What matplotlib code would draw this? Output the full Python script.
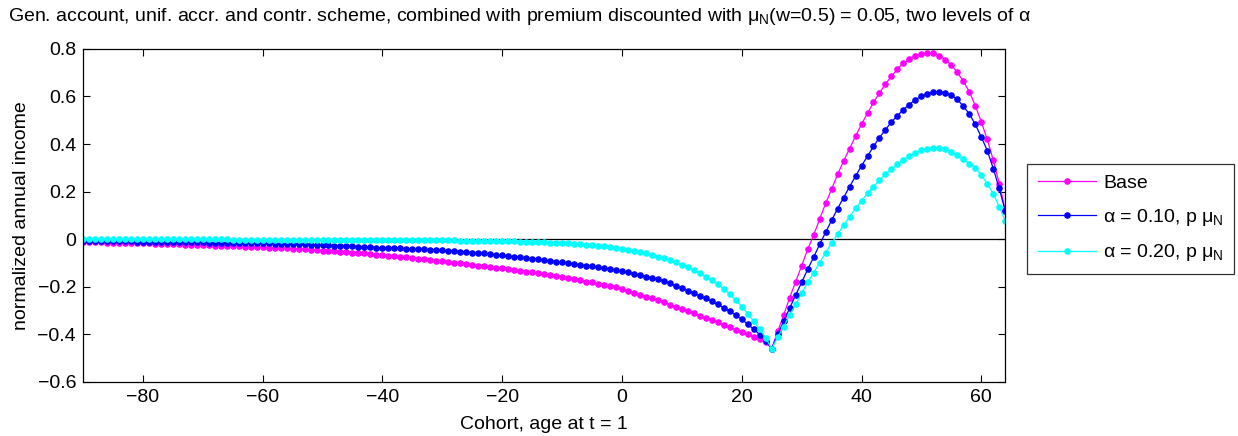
import matplotlib
matplotlib.use('Agg')
import matplotlib.pyplot as plt
import numpy as np

plt.rcParams['font.family'] = ['Liberation Sans', 'DejaVu Sans']
plt.rcParams['mathtext.fontset'] = 'custom'
plt.rcParams['mathtext.rm'] = 'Liberation Sans'
plt.rcParams['mathtext.it'] = 'Liberation Sans:italic'
plt.rcParams['font.size'] = 14

# cohort ages, -90 .. 64
ages = np.arange(-90, 65)

base = [
    -0.011, -0.012, -0.012, -0.013, -0.014, -0.014, -0.015, -0.016, -0.016, -0.017,
    -0.018, -0.018, -0.019, -0.020, -0.020, -0.021, -0.022, -0.023, -0.023, -0.024,
    -0.025, -0.026, -0.027, -0.027, -0.028, -0.029, -0.030, -0.031, -0.032, -0.033,
    -0.034, -0.035, -0.036, -0.037, -0.039, -0.040, -0.041, -0.043, -0.044, -0.046,
    -0.048, -0.049, -0.051, -0.053, -0.054, -0.056, -0.058, -0.060, -0.062, -0.065,
    -0.067, -0.069, -0.072, -0.074, -0.077, -0.079, -0.082, -0.084, -0.087, -0.090,
    -0.093, -0.096, -0.099, -0.102, -0.105, -0.108, -0.111, -0.114, -0.117, -0.120,
    -0.123, -0.126, -0.130, -0.133, -0.137, -0.140, -0.144, -0.148, -0.152, -0.156,
    -0.160, -0.164, -0.169, -0.173, -0.178, -0.182, -0.187, -0.192, -0.197, -0.203,
    -0.210, -0.217, -0.225, -0.233, -0.241, -0.249, -0.257,
    -0.266, -0.275, -0.284, -0.294, -0.303, -0.312, -0.321, -0.331, -0.340, -0.350,
    -0.360, -0.370, -0.380, -0.390, -0.400, -0.410, -0.420, -0.431,
    -0.460,
    -0.388, -0.319, -0.246, -0.179, -0.112, -0.043, 0.017, 0.084, 0.150, 0.210,
    0.272, 0.328, 0.381, 0.433, 0.483, 0.530, 0.575, 0.615, 0.652, 0.685,
    0.715, 0.740, 0.757, 0.771, 0.779, 0.784, 0.781, 0.771, 0.754, 0.731,
    0.701, 0.664, 0.620, 0.561, 0.493, 0.419, 0.332, 0.234, 0.122,
]

alpha10 = [
    -0.007, -0.007, -0.007, -0.008, -0.008, -0.008, -0.009, -0.009, -0.009, -0.010,
    -0.010, -0.010, -0.011, -0.011, -0.011, -0.012, -0.012, -0.012, -0.013, -0.013,
    -0.013, -0.014, -0.014, -0.014, -0.015, -0.015, -0.016, -0.016, -0.017, -0.017,
    -0.017, -0.018, -0.019, -0.019, -0.020, -0.021, -0.022, -0.022, -0.023, -0.024,
    -0.025, -0.026, -0.027, -0.028, -0.029, -0.030, -0.031, -0.032, -0.033, -0.035,
    -0.036, -0.037, -0.038, -0.039, -0.040, -0.041, -0.042, -0.043, -0.045, -0.046,
    -0.047, -0.049, -0.050, -0.052, -0.054, -0.056, -0.058, -0.060, -0.063, -0.065,
    -0.068, -0.071, -0.073, -0.076, -0.079, -0.082, -0.085, -0.088, -0.091, -0.094,
    -0.097, -0.100, -0.104, -0.107, -0.111, -0.114, -0.118, -0.122, -0.126, -0.130,
    -0.135, -0.140, -0.145, -0.151, -0.157, -0.163, -0.169,
    -0.176, -0.186, -0.196, -0.206, -0.216, -0.227, -0.238, -0.249, -0.261, -0.274,
    -0.288, -0.303, -0.319, -0.337, -0.357, -0.378, -0.401, -0.426,
    -0.460,
    -0.400, -0.345, -0.289, -0.235, -0.182, -0.127, -0.076, -0.022, 0.029, 0.079,
    0.128, 0.175, 0.220, 0.265, 0.308, 0.349, 0.390, 0.427, 0.460, 0.493,
    0.519, 0.545, 0.566, 0.587, 0.600, 0.611, 0.618, 0.619, 0.615, 0.605,
    0.588, 0.558, 0.527, 0.482, 0.430, 0.372, 0.297, 0.213, 0.118,
]

alpha20 = [
    -0.001, -0.001, -0.001, -0.001, -0.001, -0.001, -0.001, -0.001, -0.001, -0.001,
    -0.001, -0.001, -0.001, -0.001, -0.001, -0.001, -0.001, -0.001, -0.001, -0.001,
    -0.001, -0.001, -0.001, -0.001, -0.001, -0.002, -0.002, -0.002, -0.002, -0.002,
    -0.002, -0.002, -0.002, -0.002, -0.002, -0.002, -0.002, -0.002, -0.002, -0.002,
    -0.002, -0.002, -0.002, -0.002, -0.002, -0.003, -0.003, -0.003, -0.003, -0.003,
    -0.003, -0.003, -0.003, -0.003, -0.004, -0.004, -0.004, -0.004, -0.004, -0.005,
    -0.005, -0.005, -0.005, -0.006, -0.006, -0.006, -0.007, -0.007, -0.007, -0.008,
    -0.008, -0.009, -0.009, -0.010, -0.010, -0.011, -0.012, -0.013, -0.014, -0.015,
    -0.016, -0.018, -0.019, -0.021, -0.023, -0.025, -0.028, -0.030, -0.033, -0.036,
    -0.040, -0.044, -0.049, -0.054, -0.060, -0.066, -0.073,
    -0.081, -0.089, -0.098, -0.108, -0.119, -0.131, -0.144, -0.158, -0.173, -0.190,
    -0.209, -0.231, -0.256, -0.283, -0.313, -0.345, -0.379, -0.415,
    -0.460,
    -0.412, -0.368, -0.319, -0.274, -0.228, -0.182, -0.141, -0.099, -0.057, -0.017,
    0.021, 0.059, 0.094, 0.129, 0.161, 0.192, 0.221, 0.248, 0.273, 0.294,
    0.314, 0.334, 0.350, 0.364, 0.374, 0.381, 0.385, 0.384, 0.378, 0.367,
    0.353, 0.336, 0.318, 0.300, 0.269, 0.233, 0.191, 0.136, 0.076,
]

labels = ['Base', 'α = 0.10, p μ$_\\mathrm{N}$', 'α = 0.20, p μ$_\\mathrm{N}$']
colors = ['#ff00ff', '#0000ff', '#00ffff']

xticks = [-80, -60, -40, -20, 0, 20, 40, 60]
yticks = [-0.6, -0.4, -0.2, 0, 0.2, 0.4, 0.6, 0.8]
ytick_labels = ['\u22120.6', '\u22120.4', '\u22120.2', '0', '0.2', '0.4', '0.6', '0.8']

fig = plt.figure(figsize=(12.38, 4.36), dpi=100)
ax = fig.add_axes([0.067, 0.124, 0.745, 0.764])

ax.axhline(0, color='black', linewidth=0.9, zorder=1)
for series, lab, col in zip([base, alpha10, alpha20], labels, colors):
    ax.plot(ages, series, color=col, marker='.', markersize=7.5, linewidth=0.9,
            label=lab, zorder=2)

ax.set_xlim(-90, 64)
ax.set_ylim(-0.6, 0.8)
ax.set_xticks(xticks)
ax.set_yticks(yticks)
ax.set_yticklabels(ytick_labels)
ax.tick_params(direction='in', length=5, top=True, right=True, labelsize=14, pad=5)
for sp in ax.spines.values():
    sp.set_linewidth(0.9)

ax.set_xlabel('Cohort, age at t = 1', fontsize=14, labelpad=7)
ax.set_ylabel('normalized annual income', fontsize=14, labelpad=5)

fig.text(0.0065, 1 - 21 / 436,
         'Gen. account, unif. accr. and contr. scheme, combined with premium discounted with '
         'μ$_\\mathrm{N}$(w=0.5) = 0.05, two levels of α',
         fontsize=14, va='baseline', ha='left')

leg = fig.legend(loc='upper left', bbox_to_anchor=(0.8296, 0.624),
                 frameon=True, fancybox=False, edgecolor='black',
                 fontsize=14, handlelength=3.0, handletextpad=0.35,
                 borderpad=0.55, labelspacing=0.75, borderaxespad=0)
leg.get_frame().set_linewidth(0.9)

fig.savefig('out.png', dpi=100)
